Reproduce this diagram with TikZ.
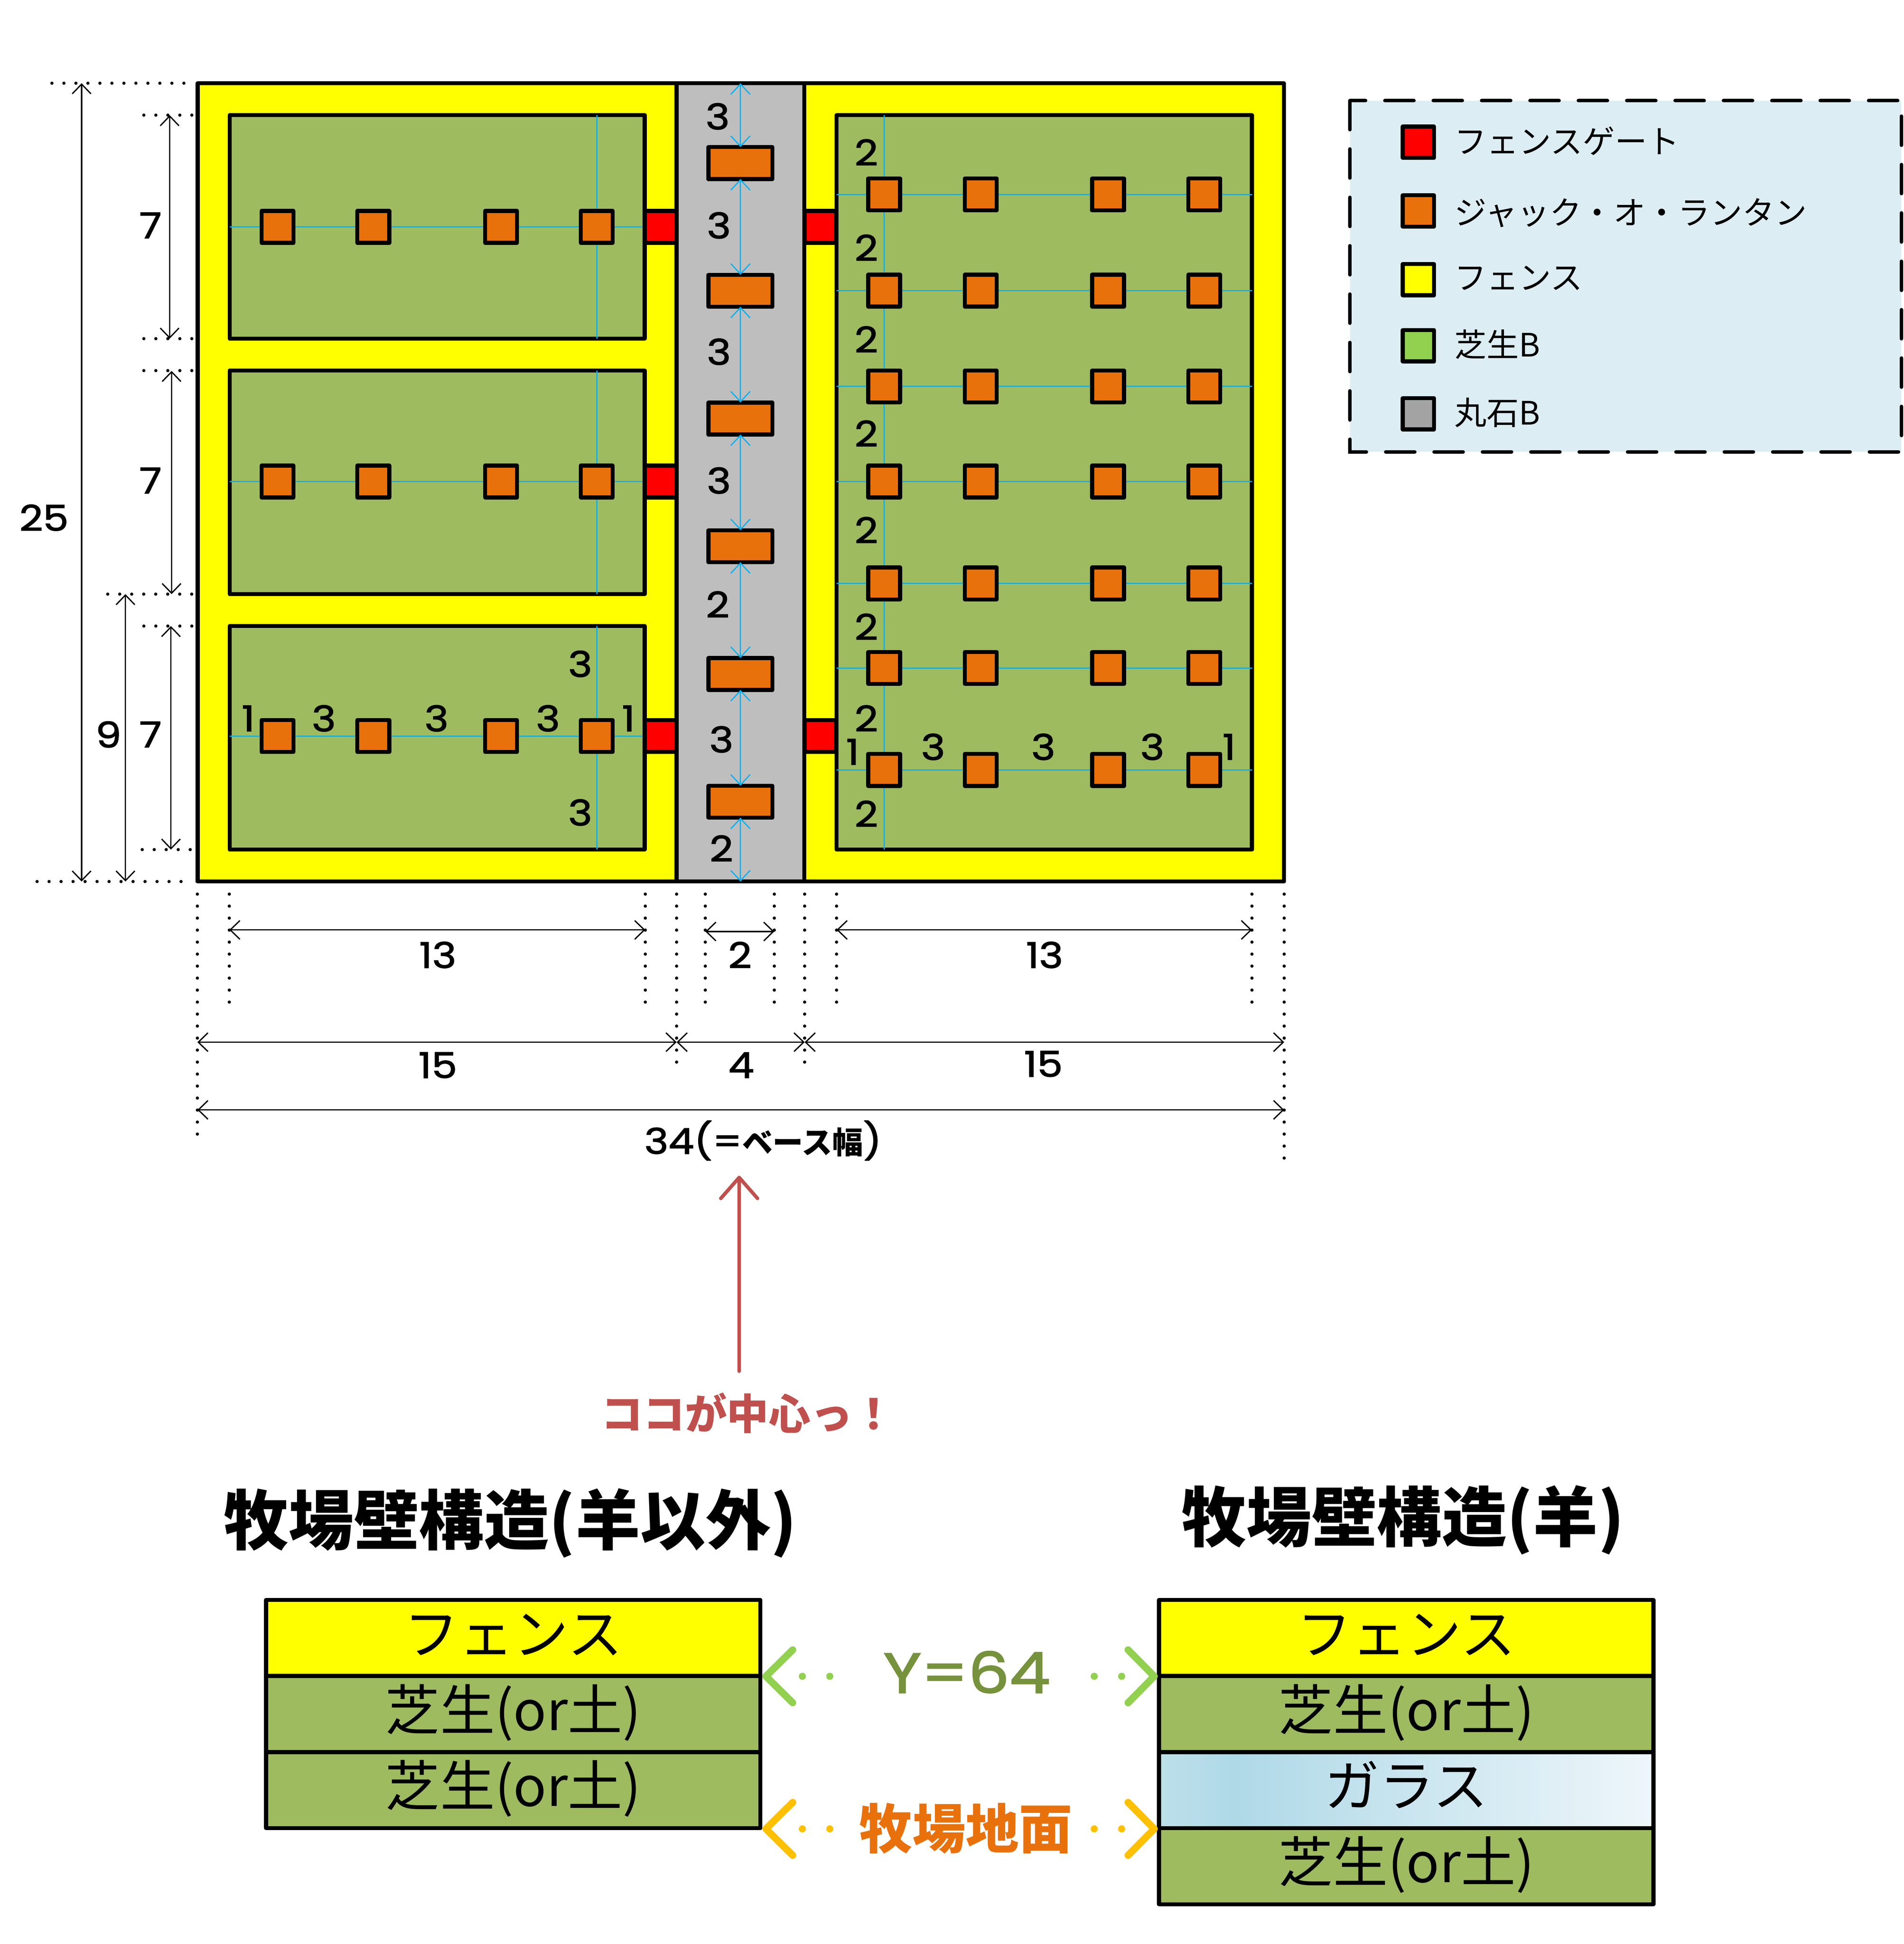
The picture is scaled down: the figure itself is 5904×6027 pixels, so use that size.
\documentclass[tikz,border=0pt]{standalone}
\usepackage{fontspec}
\usetikzlibrary{arrows.meta}
\setmainfont{Noto Sans CJK JP}
\newfontfamily\dg[FakeStretch=1.15,FakeBold=2]{Poppins}
\definecolor{grass}{HTML}{9EBB60}
\definecolor{lantern}{HTML}{E9710C}
\definecolor{stone}{HTML}{BEBEBE}
\definecolor{stonedark}{HTML}{A3A3A3}
\definecolor{cy}{HTML}{00B0F0}
\definecolor{redtxt}{HTML}{C0504D}
\definecolor{legbg}{HTML}{DCEEF4}
\definecolor{ygreen}{HTML}{76923C}
\definecolor{lgreen}{HTML}{92D050}
\definecolor{gold}{HTML}{FFC000}
\definecolor{glassa}{HTML}{BDE0EA}
\definecolor{glassb}{HTML}{AFD9E7}
\definecolor{glassc}{HTML}{EEF6FA}
\definecolor{fence}{HTML}{FFFF00}
\definecolor{gate}{HTML}{FF0000}
\tikzset{
  every node/.style={outer sep=0pt},
  blk/.style={draw=black,line width=1.25pt,line join=round},
  lantern cell/.style={blk,fill=lantern,inner sep=0pt,minimum size=9.9pt},
  road cell/.style={blk,fill=lantern,inner sep=0pt,minimum width=19.8pt,minimum height=9.9pt},
  gate cell/.style={blk,fill=gate,inner sep=0pt,minimum size=9.9pt},
  swatch/.style={blk,inner sep=0pt,minimum size=9.7pt},
  cyline/.style={cy,line width=0.35pt},
  cyarrow/.style={cy,line width=0.35pt,{Straight Barb[length=3.2pt,width=6pt]}-{Straight Barb[length=3.2pt,width=6pt]}},
  dimline/.style={black,line width=0.4pt,{Straight Barb[length=3pt,width=5.8pt]}-{Straight Barb[length=3pt,width=5.8pt]}},
  dots/.style={black,line width=1pt,line cap=round,dash pattern=on 0pt off 3.72pt},
  dimlabel/.style={font=\dg\fontsize{11}{11}\selectfont,inner sep=0pt},
  legtext/.style={font=\fontsize{10}{10}\selectfont,anchor=west,inner sep=0pt,text height=8pt,text depth=2pt},
  rowtext/.style={font=\fontsize{17}{17}\selectfont,inner sep=0pt,text height=13pt,text depth=3pt},
  titletext/.style={font=\bfseries\fontsize{20.2}{21}\selectfont,inner sep=0pt},
  layer/.style={blk,inner sep=0pt,minimum width=153.3pt,minimum height=23.6pt,anchor=north west},
  chev/.style={line width=2.2pt,line cap=round,line join=round},
  chevdots/.style={line width=2.2pt,line cap=round,dash pattern=on 0pt off 8.5pt},
}
\begin{document}
\begin{tikzpicture}[x=0.1pt,y=-0.1pt]
\useasboundingbox (0,0) rectangle (5904,6027);
% base
\fill[white] (0,0) rectangle (5904,6027);
\draw[blk,fill=fence] (613,258) rectangle (3981,2733);
\draw[blk,fill=stone] (2098,258) rectangle (2494,2733);
% panels
\foreach \a/\b in {357/1050,1149/1842,1941/2634}{
  \draw[blk,fill=grass] (712,\a) rectangle (1999,\b);
  \coordinate (vt\a) at (1850.5,\a);
  \coordinate (vb\a) at (1850.5,\b);
  \draw[cyline] (vt\a) -- (vb\a);
}
\draw[blk,fill=grass] (2594,357) rectangle (3882,2634);
\coordinate (rvt) at (2741.5,357);
\coordinate (rvb) at (2741.5,2634);
\draw[cyline] (rvt) -- (rvb);
% left rows
\foreach \y/\r in {703.5/a,1493/b,2282/c}{
  \coordinate (ls\r) at (712,\y);
  \coordinate (le\r) at (1999,\y);
  \draw[cyline] (ls\r) -- (le\r);
  \foreach \x/\c in {860.5/1,1157.5/2,1553.5/3,1850.5/4}
    \node[lantern cell] (L\r\c) at (\x,\y) {};
}
% right rows
\foreach \y/\r in {603/a,901/b,1198/c,1493/d,1809/e,2071/f,2387/g}{
  \coordinate (rs\r) at (2594,\y);
  \coordinate (re\r) at (3882,\y);
  \draw[cyline] (rs\r) -- (re\r);
  \foreach \x/\c in {2741.5/1,3041/2,3436/3,3734/4}
    \node[lantern cell] (R\r\c) at (\x,\y) {};
}
% gates
\node[gate cell] (g1) at (2048.5,703.5) {};
\node[gate cell] (g2) at (2048.5,1493) {};
\node[gate cell] (g3) at (2048.5,2282) {};
\node[gate cell] (g4) at (2544,703.5) {};
\node[gate cell] (g5) at (2544,2282) {};
% road lanterns
\foreach \y [count=\i] in {505.5,901.5,1297.5,1693.5,2089.5,2485.5}
  \node[road cell] (W\i) at (2296,\y) {};
\coordinate (wtop) at (2296,258);
\coordinate (wbot) at (2296,2733);
\draw[cyarrow] (wtop) -- (W1.north);
\foreach \a/\b in {1/2,2/3,3/4,4/5,5/6}
  \draw[cyarrow] (W\a.south) -- (W\b.north);
\draw[cyarrow] (W6.south) -- (wbot);
% dotted horizontals
\foreach \n/\a/\b/\y in {a/161/590/258,b/446/603/357,c/446/603/1050,d/446/603/1149,e/334/603/1842,f/446/603/1941,g/441/603/2634,h/115/595/2733}{
  \coordinate (dh\n1) at (\a,\y);
  \coordinate (dh\n2) at (\b,\y);
  \draw[dots] (dh\n1) -- (dh\n2);
}
% dotted verticals
\foreach \x/\b [count=\i] in {612/3524,711/3110,2001/3110,2098/3297,2187/3110,2401/3110,2495/3297,2594/3110,3882/3110,3982/3597}{
  \coordinate (dv\i1) at (\x,2772);
  \coordinate (dv\i2) at (\x,\b);
  \draw[dots] (dv\i1) -- (dv\i2);
}
% dimension arrows
\foreach \ax/\ay/\bx/\by [count=\i] in {
  253/258/253/2733, 526/357/526/1050, 532/1150/532/1842, 530/1941/530/2634, 389/1842/389/2733,
  711/2883/2001/2883, 2187/2888/2401/2888, 2594/2883/3882/2883,
  612/3231/2098/3231, 2098/3231/2495/3231, 2495/3231/3982/3231, 612/3441/3982/3441}{
  \coordinate (da\i) at (\ax,\ay);
  \coordinate (db\i) at (\bx,\by);
  \draw[dimline] (da\i) -- (db\i);
}
% dimension labels
\foreach \x/\y/\t [count=\i] in {
  35/418/25, 121/182/7, 121/388/7, 121/593/7, 87/593/9,
  353/771/13, 597/771/2, 843/771/13, 353/860/15, 598/860/4, 842/859/15,
  579/94/3, 580/182/3, 580/284/3, 580/388/3, 579/488/2, 582/597/3, 582/685/2,
  468/536/3, 468/656/3, 200/580/1, 261/580/3, 352/580/3, 442/580/3, 507/580/1,
  699/123/2, 699/200/2, 699/274/2, 699/350/2, 699/428/2, 699/506/2, 699/580/2, 699/657/2,
  688/607/1, 753/603/3, 842/603/3, 930/603/3, 992/603/1}
  \node[dimlabel] (t\i) at ({\x*3.84+2},{\y*3.84}) {\t};
\node[dimlabel] (base) at (2366,3536) {34(=\kern0pt{\rmfamily\bfseries\fontsize{9.5}{10}\selectfont ベース幅})};
% red arrow
\node[font=\bfseries\fontsize{13}{13}\selectfont,text=redtxt,inner sep=0pt] (center) at (2319,4381) {ココが中心っ！};
\coordinate (ctip) at (2292,3645);
\coordinate (ctail) at (2292,4251);
\draw[redtxt,line width=1.1pt,line cap=round,-{Straight Barb[length=6.5pt,width=11.4pt,round]}] (ctail) -- (ctip);
% legend
\draw[fill=legbg,draw=none] (4186,312) rectangle (5896,1401);
\draw[line width=1.1pt,line cap=round,dash pattern=on 9pt off 6pt] (4186,312) rectangle (5896,1401);
\foreach \y/\ty/\c/\t [count=\i] in {441/445/gate/フェンスゲート,654/666/lantern/ジャック・オ・ランタン,867/867/fence/フェンス,1072/1076/lgreen/芝生B,1283/1287/stonedark/丸石B}{
  \node[swatch,fill=\c] (s\i) at (4398,\y) {};
  \node[legtext] (st\i) at (4510,\ty) {\t};
}
% titles
\node[titletext] (tl) at (1582,4722) {牧場壁構造(羊以外)};
\node[titletext] (tr) at (4350,4712) {牧場壁構造(羊)};
% left stack
\node[layer,fill=fence] (a1) at (825,4960) {};
\node[layer,fill=grass,anchor=north] (a2) at (a1.south) {};
\node[layer,fill=grass,anchor=north] (a3) at (a2.south) {};
\node[rowtext] at (a1.center) (ax1) {フェンス};
\node[rowtext] at (a2.center) (ax2) {芝生(or土)};
\node[rowtext] at (a3.center) (ax3) {芝生(or土)};
% right stack
\node[layer,fill=fence] (b1) at (3594,4960) {};
\node[layer,fill=grass,anchor=north] (b2) at (b1.south) {};
\node[layer,anchor=north,draw=none] (b3) at (b2.south) {};
\node[layer,fill=grass,anchor=north] (b4) at (b3.south) {};
\fill[left color=glassa,right color=glassb] (b3.north west) rectangle ([xshift=23pt]b3.south west);
\fill[left color=glassb,right color=glassc] ([xshift=23pt]b3.north west) rectangle (b3.south east);
\draw[blk] (b3.north west) rectangle (b3.south east);
\node[rowtext] at (b1.center) (bx1) {フェンス};
\node[rowtext] at (b2.center) (bx2) {芝生(or土)};
\node[rowtext] at (b3.center) (bx3) {ガラス};
\node[rowtext] at (b4.center) (bx4) {芝生(or土)};
% level markers
\foreach \y/\c/\n in {5197/lgreen/p,5670/gold/q}{
  \coordinate (\n L) at (2375,\y);
  \coordinate (\n La) at (2458,\y-82);
  \coordinate (\n Lb) at (2458,\y+82);
  \coordinate (\n R) at (3579,\y);
  \coordinate (\n Ra) at (3498,\y-82);
  \coordinate (\n Rb) at (3498,\y+82);
  \coordinate (\n d1) at (2488,\y);
  \coordinate (\n d2) at (2574,\y);
  \coordinate (\n d3) at (3393,\y);
  \coordinate (\n d4) at (3479,\y);
  \draw[chev,\c] (\n La) -- (\n L) -- (\n Lb);
  \draw[chev,\c] (\n Ra) -- (\n R) -- (\n Rb);
  \draw[chevdots,\c] (\n d1) -- (\n d2);
  \draw[chevdots,\c] (\n d3) -- (\n d4);
}
\node[font=\dg\fontsize{17.5}{19}\selectfont,text=ygreen,inner sep=0pt] (ylevel) at (2998,5184) {Y=64};
\node[font=\bfseries\fontsize{16.5}{17}\selectfont,text=lantern,inner sep=0pt] (ground) at (2995,5668) {牧場地面};
\end{tikzpicture}
\end{document}
